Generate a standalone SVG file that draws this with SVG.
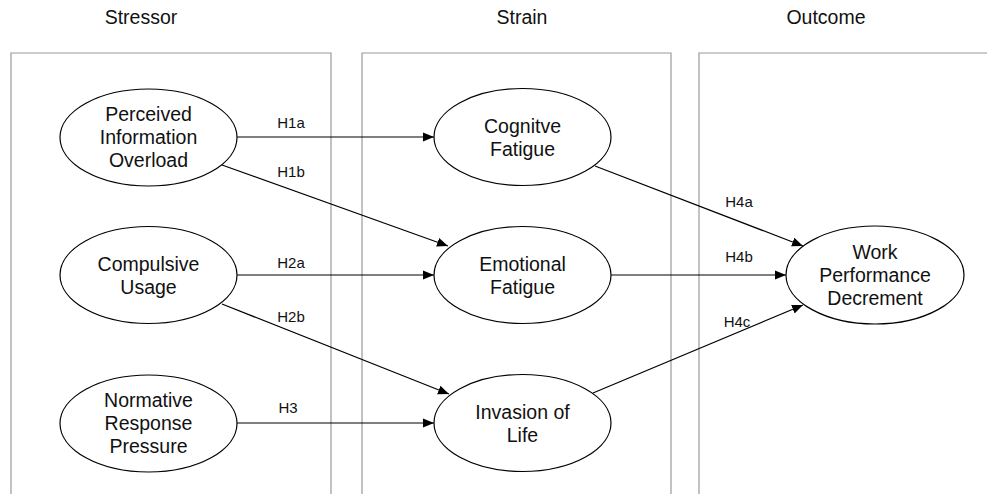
<svg xmlns="http://www.w3.org/2000/svg" width="987" height="494" viewBox="0 0 987 494">
<defs>
<marker id="arr" markerUnits="userSpaceOnUse" markerWidth="12" markerHeight="10" refX="11" refY="5" orient="auto">
<path d="M0,0.5 L11,5 L0,9.5 Z" fill="#000"/>
</marker>
<style>
.panel{fill:none;stroke:#9a9a9a;stroke-width:1.2}
.node ellipse{fill:#fff;stroke:#000;stroke-width:1.2}
.node text{font-family:"Liberation Sans",Arial,sans-serif;font-size:19.5px;fill:#111;text-anchor:middle}
.title{font-family:"Liberation Sans",Arial,sans-serif;font-size:19.5px;fill:#111;text-anchor:middle}
.lbl{font-family:"Liberation Sans",Arial,sans-serif;font-size:15px;fill:#111;text-anchor:middle}
.edge{stroke:#000;stroke-width:1.2;fill:none;marker-end:url(#arr)}
</style>
</defs>
<rect width="987" height="494" fill="#fff"/>
<g id="panels">
<path class="panel" d="M11,494 V53 H331 V494"/>
<path class="panel" d="M362,494 V53 H671 V494"/>
<path class="panel" d="M699,494 V53 H987"/>
</g>
<text class="title" x="141" y="24">Stressor</text>
<text class="title" x="522" y="24">Strain</text>
<text class="title" x="826" y="24">Outcome</text>
<g id="connectors">
<line class="edge" x1="237" y1="137" x2="434" y2="137"/>
<line class="edge" x1="222" y1="165" x2="448" y2="246"/>
<line class="edge" x1="237" y1="275" x2="434" y2="275"/>
<line class="edge" x1="222" y1="304" x2="449" y2="394"/>
<line class="edge" x1="237" y1="423" x2="434" y2="423"/>
<line class="edge" x1="595" y1="166" x2="803" y2="246"/>
<line class="edge" x1="611" y1="275" x2="786" y2="275"/>
<line class="edge" x1="593" y1="393" x2="803" y2="305"/>
<text class="lbl" x="291" y="128">H1a</text>
<text class="lbl" x="291" y="177">H1b</text>
<text class="lbl" x="291" y="268">H2a</text>
<text class="lbl" x="291" y="322">H2b</text>
<text class="lbl" x="288" y="413">H3</text>
<text class="lbl" x="739" y="207">H4a</text>
<text class="lbl" x="739" y="262">H4b</text>
<text class="lbl" x="737" y="327">H4c</text>
</g>
<g id="n_pio" class="node"><ellipse cx="148.5" cy="137.5" rx="88.5" ry="48.5"/>
<text x="148.5" y="121">Perceived</text><text x="148.5" y="144">Information</text><text x="148.5" y="167">Overload</text></g>
<g id="n_cu" class="node"><ellipse cx="148.5" cy="275" rx="88.5" ry="48.5"/>
<text x="148.5" y="271">Compulsive</text><text x="148.5" y="294">Usage</text></g>
<g id="n_nrp" class="node"><ellipse cx="148.5" cy="423.5" rx="88.5" ry="48.5"/>
<text x="148.5" y="407">Normative</text><text x="148.5" y="430">Response</text><text x="148.5" y="453">Pressure</text></g>
<g id="n_cf" class="node"><ellipse cx="522.5" cy="137" rx="88.5" ry="48.5"/>
<text x="522.5" y="133">Cognitve</text><text x="522.5" y="156">Fatigue</text></g>
<g id="n_ef" class="node"><ellipse cx="522.5" cy="275" rx="88.5" ry="48.5"/>
<text x="522.5" y="271">Emotional</text><text x="522.5" y="294">Fatigue</text></g>
<g id="n_il" class="node"><ellipse cx="522.5" cy="423" rx="88.5" ry="48.5"/>
<text x="522.5" y="419">Invasion of</text><text x="522.5" y="442">Life</text></g>
<g id="n_wpd" class="node"><ellipse cx="875" cy="275" rx="89" ry="49"/>
<text x="875" y="258.5">Work</text><text x="875" y="281.5">Performance</text><text x="875" y="304.5">Decrement</text></g>
</svg>
